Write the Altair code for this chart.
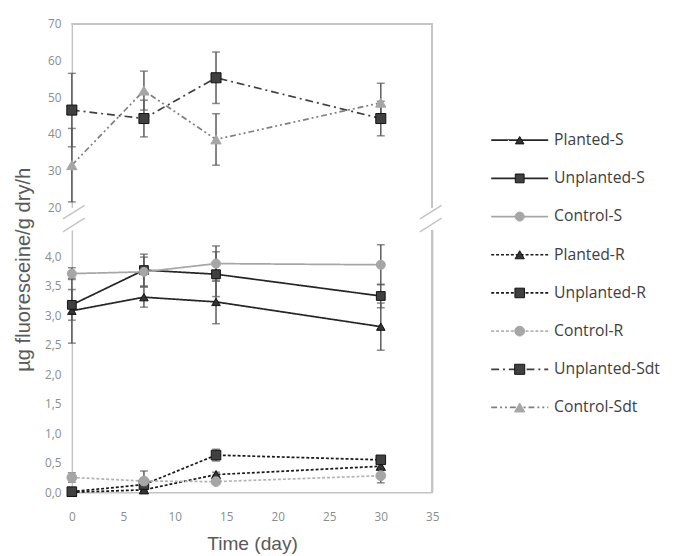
import altair as alt
import pandas as pd

# ---------------- data ----------------
days = [0, 7, 14, 30]
series = ["Planted-S", "Unplanted-S", "Control-S", "Planted-R", "Unplanted-R",
          "Control-R", "Unplanted-Sdt", "Control-Sdt"]

planted_s = [3.08, 3.31, 3.23, 2.81]
planted_s_err = [0.55, 0.17, 0.37, 0.40]
unplanted_s = [3.18, 3.77, 3.70, 3.33]
unplanted_s_err = [0.26, 0.27, 0.38, 0.20]
control_s = [3.71, 3.74, 3.88, 3.86]
control_s_err = [0.10, 0.25, 0.30, 0.34]
planted_r = [0.00, 0.04, 0.30, 0.44]
planted_r_err = [0.01, 0.02, 0.04, 0.04]
unplanted_r = [0.01, 0.13, 0.63, 0.55]
unplanted_r_err = [0.01, 0.04, 0.10, 0.04]
control_r = [0.25, 0.19, 0.18, 0.28]
control_r_err = [0.08, 0.17, 0.03, 0.12]
unplanted_sdt = [46.5, 44.2, 55.3, 44.2]
unplanted_sdt_err = [10.0, 5.0, 7.0, 4.7]
control_sdt = [31.5, 51.8, 38.5, 48.5]
control_sdt_err = [10.0, 5.3, 7.0, 5.3]

top_ticks = [20, 30, 40, 50, 60, 70]
bottom_ticks = [0.0, 0.5, 1.0, 1.5, 2.0, 2.5, 3.0, 3.5, 4.0]
x_ticks = [0, 5, 10, 15, 20, 25, 30, 35]

values = {
    "Planted-S": (planted_s, planted_s_err),
    "Unplanted-S": (unplanted_s, unplanted_s_err),
    "Control-S": (control_s, control_s_err),
    "Planted-R": (planted_r, planted_r_err),
    "Unplanted-R": (unplanted_r, unplanted_r_err),
    "Control-R": (control_r, control_r_err),
    "Unplanted-Sdt": (unplanted_sdt, unplanted_sdt_err),
    "Control-Sdt": (control_sdt, control_sdt_err),
}

rows = []
for s in series:
    v, e = values[s]
    for d, val, err in zip(days, v, e):
        rows.append({"series": s, "day": d, "value": val,
                     "lo": val - err, "hi": val + err,
                     "panel": "top" if s.endswith("Sdt") else "bottom"})
df = pd.DataFrame(rows)

# ---------------- styles ----------------
line_color = ["#262626", "#262626", "#a6a6a6", "#1a1a1a", "#1a1a1a", "#b3b3b3", "#404040", "#7f7f7f"]
line_dash = [[1, 0], [1, 0], [1, 0], [3, 2], [3, 2], [3, 2], [8, 4, 2, 4], [6, 3, 2, 3, 2, 3]]
line_width = [1.75, 1.75, 2.25, 1.75, 1.75, 1.5, 1.5, 1.5]
legend_width = [1.75, 1.75, 3.0, 1.75, 1.75, 1.5, 2.0, 1.5]
shapes = ["triangle-up", "square", "circle", "triangle-up", "square", "circle", "square", "triangle-up"]
fills = ["#333333", "#404040", "#a6a6a6", "#333333", "#404040", "#a6a6a6", "#404040", "#a6a6a6"]
strokes = ["#111111", "#111111", "#a6a6a6", "#111111", "#111111", "#a6a6a6", "#111111", "#a6a6a6"]
sizes = [75, 110, 85, 75, 110, 85, 120, 85]

ERR = "#595959"
BORDER = "#c4c4c4"
LABEL = "#8c8c8c"
TITLE = "#595959"

def sc(rng):
    return alt.Scale(domain=series, range=rng)

color_enc = alt.Color("series:N", scale=sc(line_color), legend=None)
dash_enc = alt.StrokeDash("series:N", scale=sc(line_dash), legend=None)
width_enc = alt.StrokeWidth("series:N", scale=sc(line_width), legend=None)
shape_enc = alt.Shape("series:N", scale=sc(shapes), legend=None)
fill_enc = alt.Fill("series:N", scale=sc(fills), legend=None)
stroke_enc = alt.Stroke("series:N", scale=sc(strokes), legend=None)
size_enc = alt.Size("series:N", scale=sc(sizes), legend=None)

W = 367
X_SCALE = alt.Scale(domain=[0, 35], nice=False, zero=False)


def make_axes(yticks, fmt, show_x, ytitle):
    yaxis_kw = dict(values=yticks, labelExpr=fmt, domainColor=BORDER, domainWidth=1.5,
                    labelColor=LABEL, labelFontSize=12, labelFont="Open Sans",
                    labelPadding=11, ticks=False, grid=False, labelOverlap=False,
                    labelBound=False, labelFlush=False)
    if ytitle:
        yaxis = alt.Axis(title=ytitle, titleFontSize=20.5, titleColor=TITLE,
                         titleFont="Liberation Sans", titleFontWeight="normal",
                         titleX=-49, titleY=40, titleBaseline="middle", titleAngle=-90,
                         **yaxis_kw)
    else:
        yaxis = alt.Axis(title=None, **yaxis_kw)
    if show_x:
        xaxis = alt.Axis(values=x_ticks, title="Time (day)", titleFontSize=19.5,
                         titleColor=TITLE, titleFont="Liberation Sans",
                         titleFontWeight="normal", titlePadding=12,
                         domainColor=BORDER, domainWidth=1.5, labelColor=LABEL,
                         labelFontSize=12, labelFont="Open Sans", labelPadding=20,
                         ticks=False, grid=False, labelOverlap=False, labelFlush=False)
    else:
        xaxis = None
    return xaxis, yaxis


def panel(sub, ydomain, height, yticks, fmt, show_x, ytitle=None, extra=None):
    base = alt.Chart(sub)
    xaxis, yaxis = make_axes(yticks, fmt, show_x, ytitle)
    yscale = alt.Scale(domain=ydomain, nice=False, zero=False)

    def X(f="day"):
        return alt.X(f"{f}:Q", scale=X_SCALE, axis=xaxis)

    def Y(f):
        return alt.Y(f"{f}:Q", scale=yscale, axis=yaxis)

    err = base.mark_rule(color=ERR, strokeWidth=1.5).encode(x=X(), y=Y("lo"), y2="hi:Q")
    cap_lo = base.mark_tick(color=ERR, orient="horizontal", size=8, thickness=1.5).encode(
        x=X(), y=Y("lo"))
    cap_hi = base.mark_tick(color=ERR, orient="horizontal", size=8, thickness=1.5).encode(
        x=X(), y=Y("hi"))
    lines = base.mark_line().encode(x=X(), y=Y("value"), color=color_enc, strokeDash=dash_enc,
                                    strokeWidth=width_enc, detail="series:N")
    pts = base.mark_point(filled=True, opacity=1, strokeWidth=1).encode(
        x=X(), y=Y("value"), shape=shape_enc, fill=fill_enc, stroke=stroke_enc, size=size_enc)
    right = alt.Chart(sub).mark_rule(color=BORDER, strokeWidth=1.5).encode(
        x=alt.XDatum(35, scale=X_SCALE, axis=xaxis))
    layers = [lines, err, cap_lo, cap_hi, pts, right]
    if not show_x:
        top = alt.Chart(sub).mark_rule(color=BORDER, strokeWidth=1.5).encode(
            y=alt.YDatum(ydomain[1], scale=yscale, axis=yaxis))
        layers.append(top)
    if extra is not None:
        layers.append(extra.mark_line(color=BORDER, strokeWidth=1.5, clip=False).encode(
            x=X(), y=Y("value"), detail="id:N"))
    return alt.layer(*layers).properties(width=W, height=height)


fmt_top = "format(datum.value, 'd')"
fmt_bot = "replace(format(datum.value, '.1f'), '.', ',')"

# axis-break slashes (decoration, drawn in the lower panel's data space)
brk = pd.DataFrame({
    "id": ["l1", "l1", "l2", "l2", "r1", "r1", "r2", "r2"],
    "day": [-0.86, 1.24, -0.86, 1.24, 33.8, 35.9, 33.8, 35.9],
    "value": [4.42, 4.65, 4.64, 4.87, 4.42, 4.65, 4.64, 4.87],
})

top_chart = panel(df[df.panel == "top"], [20, 70], 187, top_ticks, fmt_top, False)
bottom_chart = panel(df[df.panel == "bottom"], [0, 4.45], 267, bottom_ticks, fmt_bot, True,
                     ytitle="µg fluoresceine/g dry/h", extra=alt.Chart(brk))

main = alt.vconcat(top_chart, bottom_chart, spacing=23, bounds="flush")

# ---------------- legend ----------------
leg_rows = []
for i, s in enumerate(series):
    leg_rows.append({"series": s, "idx": i, "lx": 0})
    leg_rows.append({"series": s, "idx": i, "lx": 58})
leg_df = pd.DataFrame(leg_rows)
leg_pts = pd.DataFrame({"series": series, "idx": list(range(len(series))),
                        "lx": [29] * len(series), "tx": [64] * len(series)})

lxs = alt.Scale(domain=[0, 175], nice=False)
lys = alt.Scale(domain=[-3.05, 9.22], reverse=True, nice=False, zero=False)
leg_lines = alt.Chart(leg_df).mark_line().encode(
    x=alt.X("lx:Q", scale=lxs, axis=None), y=alt.Y("idx:Q", scale=lys, axis=None),
    color=color_enc, strokeDash=dash_enc,
    strokeWidth=alt.StrokeWidth("series:N", scale=sc(legend_width), legend=None),
    detail="series:N")
leg_marks = alt.Chart(leg_pts).mark_point(filled=True, opacity=1, strokeWidth=1).encode(
    x=alt.X("lx:Q", scale=lxs, axis=None), y=alt.Y("idx:Q", scale=lys, axis=None),
    shape=shape_enc, fill=fill_enc, stroke=stroke_enc, size=size_enc)
leg_text = alt.Chart(leg_pts).mark_text(align="left", baseline="middle", fontSize=16,
                                        font="Open Sans", color="#404040").encode(
    x=alt.X("tx:Q", scale=lxs, axis=None), y=alt.Y("idx:Q", scale=lys, axis=None),
    text="series:N")
legend = alt.layer(leg_lines, leg_marks, leg_text).properties(width=175, height=477)

chart = alt.hconcat(main, legend, spacing=43).resolve_scale(
    x="independent", y="independent"
).configure_view(strokeWidth=0, stroke="transparent").configure_axis(labelOverlap=False)

chart.save("out.html", embed_options={"renderer": "svg", "actions": False})
